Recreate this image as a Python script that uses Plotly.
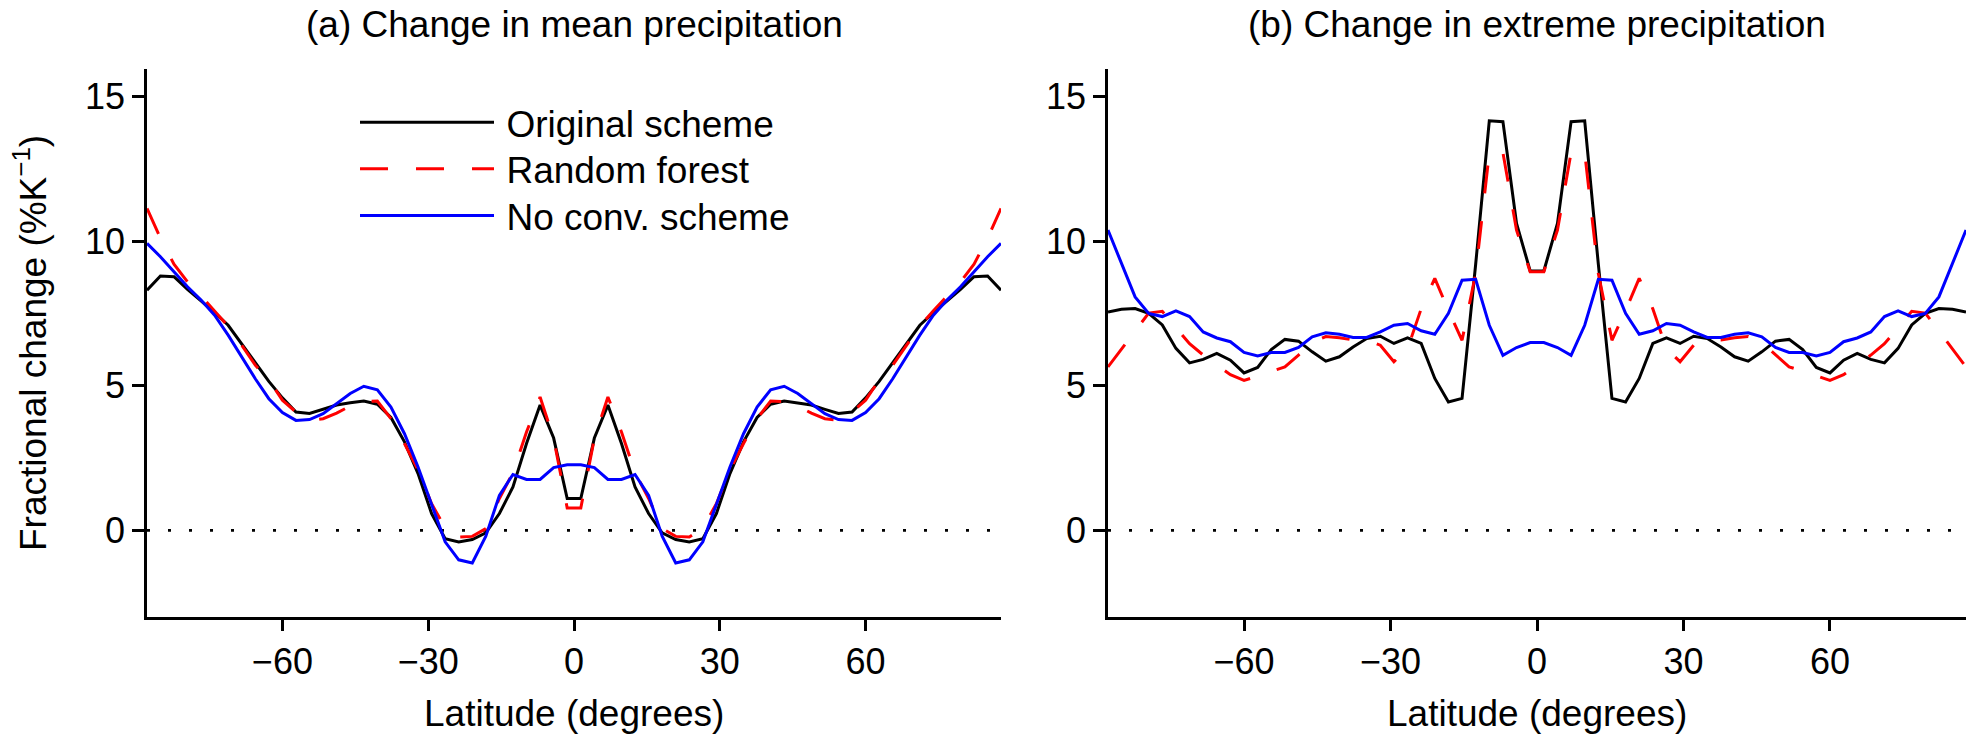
import plotly.graph_objects as go

# Gaussian-grid latitudes (degrees)
lat = [-87.86, -85.10, -82.31, -79.53, -76.74, -73.95, -71.16, -68.37, -65.58, -62.79,
       -60.00, -57.21, -54.42, -51.63, -48.84, -46.04, -43.25, -40.46, -37.67, -34.88,
       -32.09, -29.30, -26.51, -23.72, -20.93, -18.14, -15.35, -12.56, -9.77, -6.98,
       -4.19, -1.40,
       1.40, 4.19, 6.98, 9.77, 12.56, 15.35, 18.14, 20.93, 23.72, 26.51,
       29.30, 32.09, 34.88, 37.67, 40.46, 43.25, 46.04, 48.84, 51.63, 54.42,
       57.21, 60.00, 62.79, 65.58, 68.37, 71.16, 73.95, 76.74, 79.53, 82.31,
       85.10, 87.86]

# (a) mean precipitation change (% per K)
mean_original = [8.30, 8.79, 8.77, 8.33, 7.93, 7.53, 7.09, 6.45, 5.80, 5.15, 4.58, 4.09, 4.04, 4.18, 4.33, 4.41,
                 4.47, 4.36, 3.90, 3.06, 1.96, 0.58, -0.29, -0.40, -0.32, -0.09, 0.58, 1.50, 3.00, 4.33, 3.19, 1.10,
                 1.10, 3.19, 4.33, 3.00, 1.50, 0.58, -0.09, -0.32, -0.40, -0.29, 0.58, 1.96, 3.06, 3.90, 4.36, 4.47,
                 4.41, 4.33, 4.18, 4.04, 4.09, 4.58, 5.15, 5.80, 6.45, 7.09, 7.53, 7.93, 8.33, 8.77, 8.79, 8.30]
mean_forest = [11.13, 10.10, 9.20, 8.59, 8.10, 7.59, 7.06, 6.40, 5.71, 5.20, 4.50, 4.09, 3.80, 3.86, 4.05, 4.30,
               4.45, 4.47, 3.86, 3.00, 2.08, 0.92, 0.08, -0.23, -0.21, 0.06, 1.10, 2.00, 3.40, 4.61, 3.18, 0.77,
               0.77, 3.18, 4.61, 3.40, 2.00, 1.10, 0.06, -0.21, -0.23, 0.08, 0.92, 2.08, 3.00, 3.86, 4.47, 4.45,
               4.30, 4.05, 3.86, 3.80, 4.09, 4.50, 5.20, 5.71, 6.40, 7.06, 7.59, 8.10, 8.59, 9.20, 10.10, 11.13]
mean_noconv = [9.92, 9.46, 8.94, 8.42, 7.96, 7.44, 6.75, 6.00, 5.24, 4.55, 4.07, 3.80, 3.83, 4.03, 4.38, 4.73,
               4.98, 4.86, 4.26, 3.34, 2.19, 0.92, -0.40, -1.02, -1.13, -0.20, 1.21, 1.93, 1.76, 1.76, 2.17, 2.27,
               2.27, 2.17, 1.76, 1.76, 1.93, 1.21, -0.20, -1.13, -1.02, -0.40, 0.92, 2.19, 3.34, 4.26, 4.86, 4.98,
               4.73, 4.38, 4.03, 3.83, 3.80, 4.07, 4.55, 5.24, 6.00, 6.75, 7.44, 7.96, 8.42, 8.94, 9.46, 9.92]

# (b) extreme precipitation change (% per K)
ext_original = [7.55, 7.64, 7.67, 7.50, 7.10, 6.29, 5.79, 5.91, 6.12, 5.88, 5.44, 5.63, 6.25, 6.60, 6.54, 6.17,
                5.85, 6.00, 6.34, 6.63, 6.71, 6.46, 6.65, 6.46, 5.25, 4.44, 4.56, 9.20, 14.16, 14.13, 10.61, 8.97,
                8.97, 10.61, 14.13, 14.16, 9.20, 4.56, 4.44, 5.25, 6.46, 6.65, 6.46, 6.71, 6.63, 6.34, 6.00, 5.85,
                6.17, 6.54, 6.60, 6.25, 5.63, 5.44, 5.88, 6.12, 5.91, 5.79, 6.29, 7.10, 7.50, 7.67, 7.64, 7.55]
ext_forest = [5.65, 6.26, 6.89, 7.51, 7.57, 7.00, 6.45, 6.06, 5.71, 5.38, 5.18, 5.34, 5.51, 5.65, 6.06, 6.49,
              6.70, 6.66, 6.58, 6.58, 6.40, 5.83, 6.28, 7.66, 8.71, 7.60, 6.57, 8.88, 13.06, 13.06, 10.38, 8.94,
              8.94, 10.38, 13.06, 13.06, 8.88, 6.57, 7.60, 8.71, 7.66, 6.28, 5.83, 6.40, 6.58, 6.58, 6.66, 6.70,
              6.49, 6.06, 5.65, 5.51, 5.34, 5.18, 5.38, 5.71, 6.06, 6.45, 7.00, 7.57, 7.51, 6.89, 6.26, 5.65]
ext_noconv = [10.38, 9.24, 8.07, 7.50, 7.39, 7.59, 7.39, 6.86, 6.65, 6.52, 6.15, 6.03, 6.15, 6.15, 6.32, 6.69,
              6.83, 6.78, 6.67, 6.67, 6.86, 7.09, 7.15, 6.90, 6.78, 7.50, 8.65, 8.68, 7.09, 6.05, 6.32, 6.49,
              6.49, 6.32, 6.05, 7.09, 8.68, 8.65, 7.50, 6.78, 6.90, 7.15, 7.09, 6.86, 6.67, 6.67, 6.78, 6.83,
              6.69, 6.32, 6.15, 6.15, 6.03, 6.15, 6.52, 6.65, 6.86, 7.39, 7.59, 7.39, 7.50, 8.07, 9.24, 10.38]

series_names = ["Original scheme", "Random forest", "No conv. scheme"]
x_ticks = [-60, -30, 0, 30, 60]
y_ticks = [0, 5, 10, 15]
titles = ["(a) Change in mean precipitation", "(b) Change in extreme precipitation"]

FONT = "Liberation Sans, Arial, Helvetica, sans-serif"
styles = [dict(color="#000000", width=3),
          dict(color="#ff0000", width=3, dash="28px,28px"),
          dict(color="#0000ff", width=3)]
legend_ids = ["legend", "legend2", "legend3"]

W, H = 1968, 735
fig = go.Figure()

panels = [(mean_original, mean_forest, mean_noconv), (ext_original, ext_forest, ext_noconv)]
for p, data in enumerate(panels):
    xa = "x" if p == 0 else "x2"
    ya = "y" if p == 0 else "y2"
    for name, vals, st, lg in zip(series_names, data, styles, legend_ids):
        fig.add_trace(go.Scatter(x=lat, y=vals, mode="lines", name="\u2009" + name, line=st,
                                 xaxis=xa, yaxis=ya, showlegend=(p == 0), legend=lg))

x_domains = [[147 / W, 1001 / W], [1108 / W, 1966 / W]]
y_domain = [1 - 616.5 / H, 1 - 69 / H]

axis_common = dict(showgrid=False, zeroline=False, showline=True, linecolor="black", linewidth=2.5,
                   ticks="outside", ticklen=12, tickwidth=2.5, tickcolor="black",
                   tickfont=dict(family=FONT, size=36, color="black"))


def legend_row(y_px):
    # one legend box per entry so the row spacing can be set exactly
    return dict(x=355 / W, y=1 - y_px / H, xanchor="left", yanchor="middle",
                font=dict(family=FONT, size=37, color="black"),
                bgcolor="rgba(0,0,0,0)", itemwidth=134)


fig.update_layout(
    width=W, height=H,
    margin=dict(l=0, r=0, t=0, b=0),
    paper_bgcolor="white", plot_bgcolor="white",
    xaxis=dict(domain=x_domains[0], range=[-87.86, 87.86], tickvals=x_ticks, anchor="y", **axis_common),
    yaxis=dict(domain=y_domain, range=[-2.98, 15.95], tickvals=y_ticks, anchor="x", **axis_common),
    xaxis2=dict(domain=x_domains[1], range=[-87.86, 87.86], tickvals=x_ticks, anchor="y2", **axis_common),
    yaxis2=dict(domain=y_domain, range=[-2.98, 15.95], tickvals=y_ticks, anchor="x2", **axis_common),
    legend=legend_row(122.7),
    legend2=legend_row(169.3),
    legend3=legend_row(216),
    showlegend=True,
)

# dotted zero reference line in each panel
for xa, ya in [("x", "y"), ("x2", "y2")]:
    fig.add_shape(type="line", xref=xa, yref=ya, x0=-87.86, x1=87.86, y0=0, y1=0,
                  line=dict(color="black", width=2.7, dash="3px,18px"), layer="below")

# panel titles and axis titles
for i, xa in enumerate(["x", "x2"]):
    fig.add_annotation(text=titles[i], xref=f"{xa} domain", yref="paper", x=0.5, y=1 - 24.5 / H,
                       xanchor="center", yanchor="middle", showarrow=False,
                       font=dict(family=FONT, size=37, color="black"))
    fig.add_annotation(text="Latitude (degrees)", xref=f"{xa} domain", yref="paper", x=0.5, y=1 - 713 / H,
                       xanchor="center", yanchor="middle", showarrow=False,
                       font=dict(family=FONT, size=37, color="black"))

fig.add_annotation(text="Fractional change (%K<sup>\u22121</sup>)", xref="paper", yref="paper",
                   x=30 / W, y=1 - 343 / H, xanchor="center", yanchor="middle", textangle=-90,
                   showarrow=False, font=dict(family=FONT, size=37, color="black"))

fig.write_html("out.html")
